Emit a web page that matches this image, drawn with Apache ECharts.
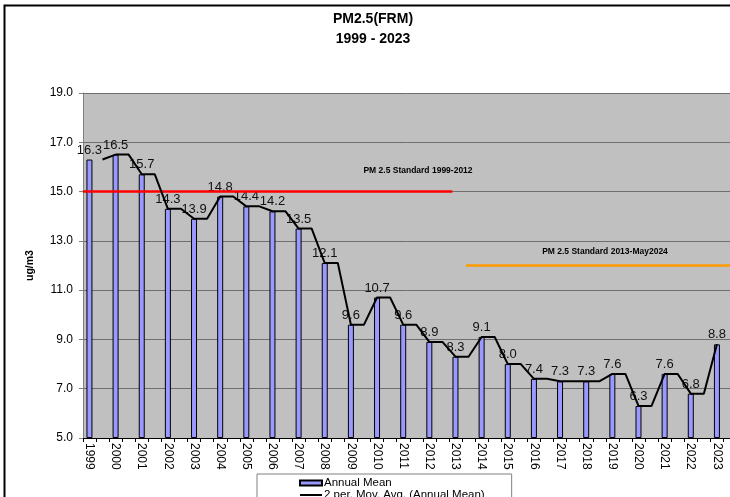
<!DOCTYPE html>
<html>
<head>
<meta charset="utf-8">
<script src="https://cdn.jsdelivr.net/npm/echarts@6/dist/echarts.min.js"></script>
<style>
  html, body { margin: 0; padding: 0; background: #fff; }
  #chart { width: 730px; height: 497px; }
</style>
</head>
<body>
<div id="chart"></div>
<script>
// 数据
const years = ['1999', '2000', '2001', '2002', '2003', '2004', '2005', '2006', '2007', '2008',
  '2009', '2010', '2011', '2012', '2013', '2014', '2015', '2016', '2017', '2018',
  '2019', '2020', '2021', '2022', '2023'];
const annualMean = [16.3, 16.5, 15.7, 14.3, 13.9, 14.8, 14.4, 14.2, 13.5, 12.1,
  9.6, 10.7, 9.6, 8.9, 8.3, 9.1, 8.0, 7.4, 7.3, 7.3,
  7.6, 6.3, 7.6, 6.8, 8.8];
const yMin = 5, yMax = 19, yStep = 2;
// PM2.5 standards: value, start year, end year
const standardNames = ['PM 2.5 Standard 1999-2012', 'PM 2.5 Standard 2013-May2024'];
const standardValues = [15, 12];
const standardFrom = [1998.75, 2013.4];
const standardTo = [2012.88, 2024.5];

const FONT = '"Liberation Sans", Arial, sans-serif';
const SPACING = 26.5;          // px per year
const plotLeft = 83;
const firstBar = plotLeft + SPACING / 4;
const catLeft = firstBar - SPACING / 2;
const plotRight = 730 - (catLeft + years.length * SPACING);
const gridTop = 93, gridBottom = 59;

// values are shifted so that the axis starts at 0 (ticks every 2 from 5.0)
const shift = v => +(v - yMin).toFixed(2);

// moving average line: flat from each year to half way, then to next year
const maPoints = [];
annualMean.forEach((v, i) => {
  if (i > 0) maPoints.push([i, shift(v)]);
  if (i < annualMean.length - 1) maPoints.push([i + 0.5, shift(v)]);
});

const chart = echarts.init(document.getElementById('chart'));

const standardSeries = standardValues.map((v, k) => ({
  name: standardNames[k],
  type: 'line',
  xAxisIndex: 2,
  yAxisIndex: 1,
  data: [[standardFrom[k] - 1999, shift(v)], [standardTo[k] - 1999, shift(v)]],
  symbol: 'none',
  lineStyle: { color: k === 0 ? '#ff0000' : '#ff9900', width: 2.5 },
  z: 4,
  silent: true
}));

chart.setOption({
  animation: false,
  textStyle: { fontFamily: FONT },
  title: {
    text: 'PM2.5(FRM)\n1999 - 2023',
    left: 368,
    top: 4,
    textAlign: 'center',
    textStyle: { fontSize: 14, fontWeight: 'bold', color: '#000', lineHeight: 20, fontFamily: FONT }
  },
  legend: {
    data: [
      { name: 'Annual Mean', icon: 'rect' },
      { name: '2 per. Mov. Avg. (Annual Mean)', itemStyle: { color: 'rgba(0,0,0,0)', borderWidth: 0 } }
    ],
    orient: 'vertical',
    left: 257,
    top: 474,
    height: 60,
    padding: [3, 27, 3, 42],
    itemWidth: 22,
    itemHeight: 5,
    itemGap: 0,
    borderColor: '#808080',
    borderWidth: 1,
    backgroundColor: '#fff',
    textStyle: { fontSize: 11.5, lineHeight: 10, color: '#000', fontFamily: FONT, padding: [0, 0, 0, -3] }
  },
  grid: [
    { left: plotLeft, right: plotRight, top: gridTop, bottom: gridBottom, show: true, backgroundColor: '#c0c0c0', borderWidth: 0 },
    { left: catLeft, right: plotRight, top: gridTop, bottom: gridBottom }
  ],
  xAxis: [
    {
      type: 'value', gridIndex: 0, min: 0, max: years.length - 0.25, interval: 0.5,
      axisLine: { show: true, lineStyle: { color: '#000', width: 1 } },
      axisTick: { show: true, length: 4, lineStyle: { color: '#000' } },
      axisLabel: { show: false },
      splitLine: { show: false }
    },
    {
      type: 'category', gridIndex: 1, data: years, boundaryGap: true,
      axisLine: { show: false },
      axisTick: { show: false },
      axisLabel: { rotate: -90, margin: 5, fontSize: 12, color: '#000', fontFamily: FONT, interval: 0 }
    },
    {
      type: 'value', gridIndex: 1, min: -0.5, max: years.length - 0.5, show: false
    }
  ],
  yAxis: [
    {
      type: 'value', gridIndex: 0, min: 0, max: yMax - yMin, interval: yStep,
      name: 'ug/m3', nameLocation: 'middle', nameRotate: 90, nameGap: 47,
      nameTextStyle: { fontSize: 10.5, fontWeight: 'bold', color: '#000', fontFamily: FONT },
      axisLine: { show: true, lineStyle: { color: '#808080' } },
      axisTick: { show: true, length: 4, lineStyle: { color: '#808080' } },
      axisLabel: { formatter: v => (v + yMin).toFixed(1), fontSize: 12, color: '#000', margin: 10, fontFamily: FONT },
      splitLine: { show: true, lineStyle: { color: '#6e6e6e', width: 1 } }
    },
    {
      type: 'value', gridIndex: 1, min: 0, max: yMax - yMin, show: false
    }
  ],
  series: [
    {
      name: 'Annual Mean',
      type: 'bar',
      xAxisIndex: 1,
      yAxisIndex: 1,
      data: annualMean.map(shift),
      barWidth: 6,
      itemStyle: { color: '#9999ff', borderColor: '#000', borderWidth: 1 },
      label: {
        show: true, position: 'top', distance: 3,
        formatter: p => annualMean[p.dataIndex].toFixed(1),
        fontSize: 13, color: '#111', fontFamily: FONT
      },
      z: 2
    },
    {
      name: '2 per. Mov. Avg. (Annual Mean)',
      type: 'line',
      xAxisIndex: 2,
      yAxisIndex: 1,
      data: maPoints,
      symbol: 'none',
      lineStyle: { color: '#000', width: 2 },
      itemStyle: { color: '#000' },
      z: 5
    }
  ].concat(standardSeries),
  graphic: [
    {
      type: 'rect', left: 2, top: 3, silent: true,
      shape: { width: 800, height: 600 },
      style: { fill: 'none', stroke: '#000', lineWidth: 2 }
    },
    {
      type: 'text', x: 418, y: 171, silent: true,
      style: { text: standardNames[0], font: 'bold 8.5px ' + FONT, fill: '#000', textAlign: 'center', textVerticalAlign: 'middle' }
    },
    {
      type: 'text', x: 605, y: 252, silent: true,
      style: { text: standardNames[1], font: 'bold 8.5px ' + FONT, fill: '#000', textAlign: 'center', textVerticalAlign: 'middle' }
    }
  ]
});
</script>
</body>
</html>
